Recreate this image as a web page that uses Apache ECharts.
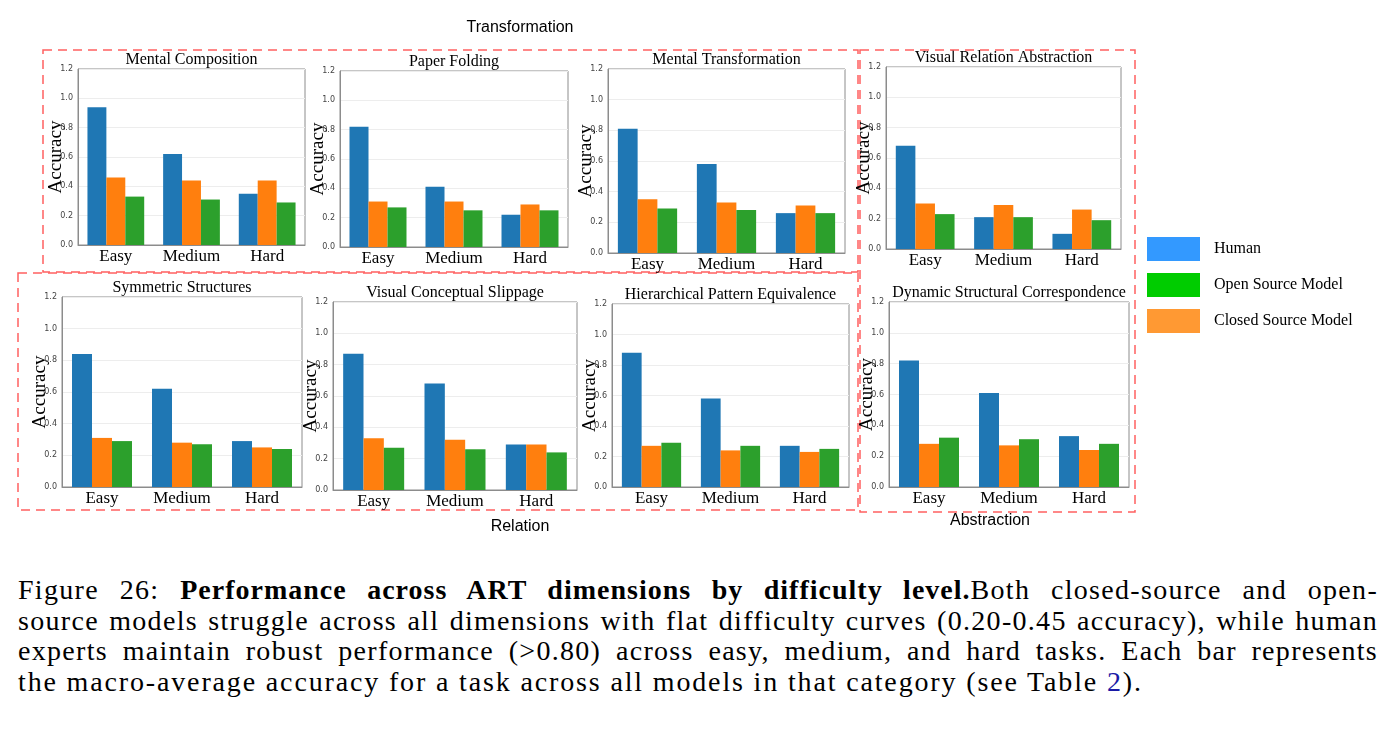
<!DOCTYPE html>
<html>
<head>
<meta charset="utf-8">
<script src="https://cdn.jsdelivr.net/npm/echarts@6/dist/echarts.min.js"></script>
<style>
body { margin: 0; background: #fff; }
#wrap { position: relative; width: 1392px; height: 730px; overflow: hidden; }
#chart { position: absolute; left: 0; top: 0; width: 1392px; height: 560px; }
#caption { position: absolute; left: 18px; top: 575px; width: 1360px; font-family: "Liberation Serif", serif; font-size: 28px; letter-spacing: 1.3px; line-height: 30.7px; color: #000; }
#caption div { text-align: justify; text-align-last: justify; }
#caption div.last { text-align: left; text-align-last: left; letter-spacing: 1.85px; }
#caption b { letter-spacing: 1px; }
#caption .ref { color: #1a1aa6; }
</style>
</head>
<body>
<div id="wrap">
  <div id="chart"></div>
  <div id="caption">
    <div>Figure 26: <b>Performance across ART dimensions by difficulty level.</b>Both closed-source and open-</div>
    <div>source models struggle across all dimensions with flat difficulty curves (0.20-0.45 accuracy), while human</div>
    <div>experts maintain robust performance (&gt;0.80) across easy, medium, and hard tasks. Each bar represents</div>
    <div class="last">the macro-average accuracy for a task across all models in that category (see Table <span class="ref">2</span>).</div>
  </div>
</div>
<script>
// data
const categories = ['Easy', 'Medium', 'Hard'];
const taskNames = [
    'Mental Composition', 'Paper Folding', 'Mental Transformation', 'Visual Relation Abstraction',
    'Symmetric Structures', 'Visual Conceptual Slippage', 'Hierarchical Pattern Equivalence', 'Dynamic Structural Correspondence'
];
const humanAcc = [
    [0.94, 0.62, 0.35], [0.82, 0.41, 0.22], [0.81, 0.58, 0.26], [0.68, 0.21, 0.10],
    [0.84, 0.62, 0.29], [0.87, 0.68, 0.29], [0.88, 0.58, 0.27], [0.82, 0.61, 0.33]
];
const closedAcc = [
    [0.46, 0.44, 0.44], [0.31, 0.31, 0.29], [0.35, 0.33, 0.31], [0.30, 0.29, 0.26],
    [0.31, 0.28, 0.25], [0.33, 0.32, 0.29], [0.27, 0.24, 0.23], [0.28, 0.27, 0.24]
];
const openAcc = [
    [0.33, 0.31, 0.29], [0.27, 0.25, 0.25], [0.29, 0.28, 0.26], [0.23, 0.21, 0.19],
    [0.29, 0.27, 0.24], [0.27, 0.26, 0.24], [0.29, 0.27, 0.25], [0.32, 0.31, 0.28]
];
const legendNames = ['Human', 'Open Source Model', 'Closed Source Model'];
const groupLabels = ['Transformation', 'Relation', 'Abstraction'];

// layout: [left, top, width, height] of each plot area
const panels = [
    [78, 69, 227, 176], [340, 71, 228, 176], [608, 69, 237, 184], [886, 67, 235, 182],
    [62, 297, 240, 190], [333, 302, 244, 188], [612, 304, 237, 183], [889, 302, 240, 185]
];
const barColors = { human: '#1f77b4', closed: '#ff7f0e', open: '#2ca02c' };
const legendColors = ['#3399ff', '#00cc00', '#ff9933'];

var chart = echarts.init(document.getElementById('chart'));

var grids = [], xAxes = [], yAxes = [], series = [], graphics = [];
panels.forEach(function (p, i) {
    grids.push({
        left: p[0], top: p[1], width: p[2], height: p[3],
        show: true, borderColor: '#8c8c8c', borderWidth: 1, backgroundColor: 'transparent'
    });
    xAxes.push({
        type: 'category', gridIndex: i, data: categories,
        axisLine: { lineStyle: { color: '#8c8c8c' } },
        axisTick: { show: false },
        axisLabel: { fontFamily: 'Liberation Serif', fontSize: 17, color: '#000', margin: 3 }
    });
    yAxes.push({
        type: 'value', gridIndex: i, min: 0, max: 1.2, interval: 0.2,
        name: 'Accuracy', nameLocation: 'middle', nameGap: 12, nameMoveOverlap: false,
        nameTextStyle: { fontFamily: 'Liberation Serif', fontSize: 19, color: '#000' },
        axisLine: { show: true, lineStyle: { color: '#8c8c8c' } },
        axisTick: { show: false },
        axisLabel: {
            fontFamily: 'DejaVu Sans', fontSize: 8, color: '#444', margin: 5,
            formatter: function (v) { return v.toFixed(1); }
        },
        splitLine: { lineStyle: { color: '#ededed' } }
    });
    [['Human', humanAcc, barColors.human], ['Closed Source Model', closedAcc, barColors.closed],
     ['Open Source Model', openAcc, barColors.open]].forEach(function (s) {
        series.push({
            name: s[0], type: 'bar', xAxisIndex: i, yAxisIndex: i,
            data: s[1][i], barGap: '0%', barCategoryGap: '25%',
            itemStyle: { color: s[2] }
        });
    });
    graphics.push({
        type: 'text', x: p[0] + p[2] / 2, y: p[1] - 1,
        style: {
            text: taskNames[i], fill: '#000', font: '16px "Liberation Serif"',
            textAlign: 'center', textVerticalAlign: 'bottom'
        }
    });
});

// dashed group boxes
var dash = { fill: 'none', stroke: '#ff6060', lineWidth: 1.5, lineDash: [9, 6] };
[[43, 50, 815, 222], [18, 273, 840, 237], [860, 50, 275, 462]].forEach(function (r) {
    graphics.push({ type: 'rect', shape: { x: r[0], y: r[1], width: r[2], height: r[3] }, style: dash, silent: true });
});
[[520, 28], [520, 527], [990, 521]].forEach(function (pos, k) {
    graphics.push({
        type: 'text', x: pos[0], y: pos[1],
        style: {
            text: groupLabels[k], fill: '#000', font: '16px "Liberation Sans"',
            textAlign: 'center', textVerticalAlign: 'middle'
        }
    });
});

var option = {
    animation: false,
    grid: grids,
    xAxis: xAxes,
    yAxis: yAxes,
    legend: {
        orient: 'vertical', left: 1147, top: 237, padding: 0,
        itemWidth: 53, itemHeight: 24, itemGap: 12, selectedMode: false,
        icon: 'rect',
        textStyle: { fontFamily: 'Liberation Serif', fontSize: 16, color: '#000', padding: [0, 0, 0, 9] },
        data: legendNames.map(function (n, k) {
            return { name: n, itemStyle: { color: legendColors[k] } };
        })
    },
    graphic: graphics,
    series: series
};
chart.setOption(option);
</script>
</body>
</html>
